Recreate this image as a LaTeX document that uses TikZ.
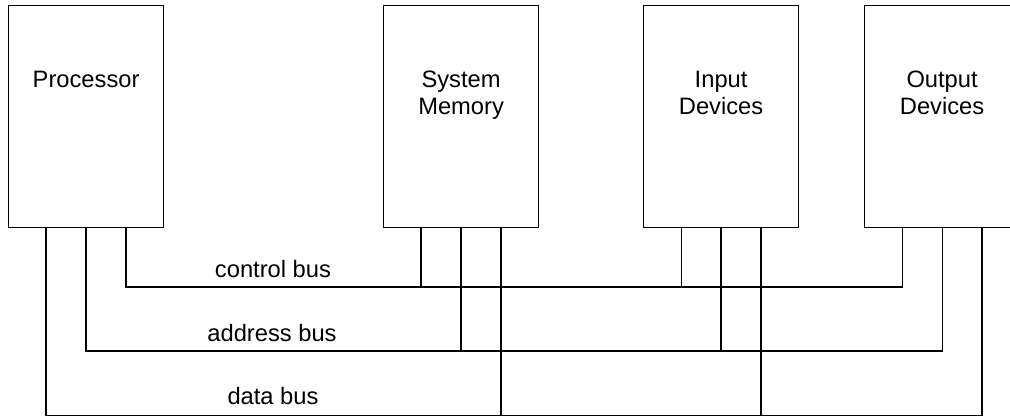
\documentclass[tikz,border=0pt]{standalone}
\usepackage{fontspec}
\setmainfont{Liberation Sans}
\newcommand{\unitbox}[2]{node[draw, anchor=north west, minimum width=3.1cm, minimum height=4.44cm, inner sep=0pt,
  label={[align=center, anchor=north, inner sep=0pt, yshift=-1.31cm, font=\fontsize{13.5}{15.3}\selectfont]north:#2}] (#1) {}}
\newcommand{\buslabel}[2]{node[anchor=base, font=\fontsize{13.5}{15.3}\selectfont] (#1) {#2}}

\begin{document}
\begin{tikzpicture}[x=0.02cm, y=-0.02cm, line width=0.7pt]
  \clip (0,0) rectangle (1010,416);
  \path (8,5) \unitbox{proc}{Processor};
  \path (383,5) \unitbox{mem}{System\\Memory};
  \path (643,5) \unitbox{inp}{Input\\Devices};
  \path (864,5) \unitbox{outp}{Output\\Devices};

  \coordinate (ctrl) at (0,287);
  \coordinate (addr) at (0,351);
  \coordinate (data) at (0,415.5);

  \coordinate (proc-c) at ([xshift=.8cm]proc.south);
  \coordinate (proc-d) at ([xshift=-.8cm]proc.south);
  \foreach \b in {mem,inp,outp}{
    \coordinate (\b-c) at ([xshift=-.8cm]\b.south);
    \coordinate (\b-d) at ([xshift=.8cm]\b.south);
  }

  \draw (proc-c) |- (outp-c |- ctrl) -- (outp-c);
  \draw (proc.south) |- (outp.south |- addr) -- (outp.south);
  \draw (proc-d) |- (outp-d |- data) -- (outp-d);
  \foreach \b in {mem,inp}{
    \draw (\b-c) -- (\b-c |- ctrl);
    \draw (\b.south) -- (\b.south |- addr);
    \draw (\b-d) -- (\b-d |- data);
  }

  \path (273,277) \buslabel{ctrllbl}{control bus};
  \path (272,341) \buslabel{addrlbl}{address bus};
  \path (273,404) \buslabel{datalbl}{data bus};
\end{tikzpicture}
\end{document}
